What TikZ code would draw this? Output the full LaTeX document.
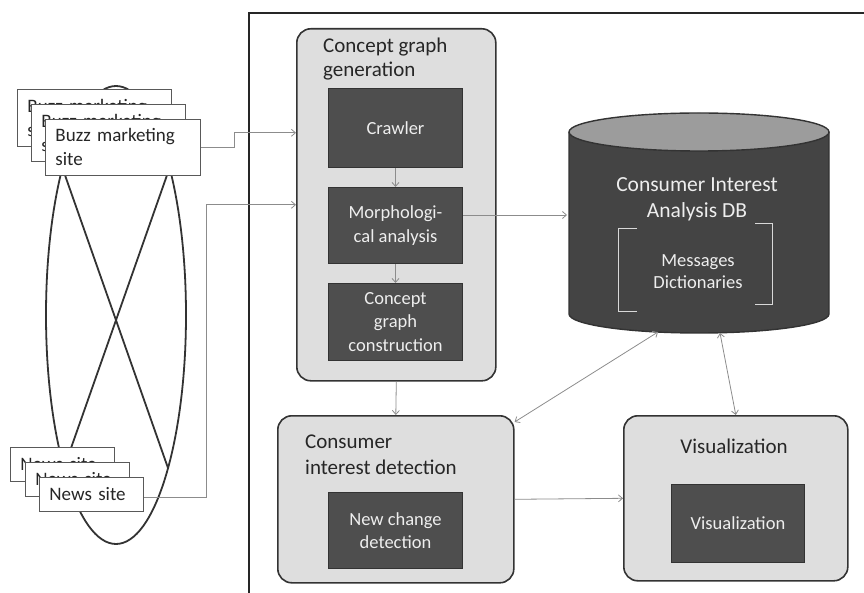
\documentclass[tikz,border=0pt]{standalone}
\usepackage{fontspec}
\setmainfont{Carlito}
\usetikzlibrary{arrows.meta}
\definecolor{lightbox}{HTML}{DEDEDE}
\definecolor{darkbox}{HTML}{4E4E4E}
\definecolor{edgec}{HTML}{333333}
\definecolor{connc}{HTML}{8C8C8C}
\definecolor{dbbody}{HTML}{444444}
\definecolor{dbtop}{HTML}{9C9C9C}
\definecolor{lighttext}{HTML}{EEEEEE}
\definecolor{inktext}{HTML}{262626}
\begin{document}
\begin{tikzpicture}[x=1pt,y=-1pt,
  group/.style={draw=edgec, line width=1.6pt, fill=lightbox, rounded corners=14pt, inner sep=0pt, anchor=north west},
  dark/.style={draw=edgec, line width=1pt, fill=darkbox, text=lighttext, align=center, inner sep=0pt, anchor=north west, font=\fontsize{18.5}{23.5}\selectfont},
  site/.style={draw=black!65, line width=0.9pt, fill=white, align=left, inner xsep=10pt, inner ysep=0pt, anchor=north west, font=\fontsize{19}{24}\selectfont, text=inktext},
  title/.style={inner sep=0pt, font=\fontsize{21}{26}\selectfont, text=inktext},
  dbtext/.style={inner sep=0pt, anchor=base, text=lighttext},
  conn/.style={draw=connc, line width=0.8pt, -{Straight Barb[length=4pt,width=7pt]}},
  conntwo/.style={draw=connc, line width=0.8pt, {Straight Barb[length=4pt,width=7pt]}-{Straight Barb[length=4pt,width=7pt]}},
  outline/.style={draw=black!80, line width=1.8pt}
]
\useasboundingbox (0,0) rectangle (864,593);

% outer frame
\draw[line width=2pt, draw=black!85] (864,13) -- (249,13) -- (249,593);

% ellipse with cross
\draw[outline] (116,315) ellipse[x radius=70, y radius=229];
\draw[outline] (62.4,167.8) -- (168,468);
\draw[outline] (169.6,167.8) -- (64,468);

% buzz marketing sites
\node[site, minimum width=154, minimum height=57, text width=134] (bz1) at (17,89) {Buzz marketing\\site};
\node[site, minimum width=154, minimum height=57, text width=134] (bz2) at (31,104) {Buzz marketing\\site};
\node[site, minimum width=155, minimum height=56, text width=135] (bz3) at (45,119) {Buzz marketing\\site};

% news sites
\node[site, minimum width=104, minimum height=34, text width=84] (nw1) at (10,447) {News site};
\node[site, minimum width=104, minimum height=34, text width=84] (nw2) at (25,462) {News site};
\node[site, minimum width=104, minimum height=34, text width=84] (nw3) at (39,477) {News site};

% concept graph generation
\node[group, minimum width=199, minimum height=352] (cg) at (296,28) {};
\node[title, anchor=base west] (cgt1) at (323,53) {Concept graph};
\node[title, anchor=base west] (cgt2) at (323,77) {generation};
\node[dark, minimum width=134, minimum height=79] (crawler) at (328,88) {Crawler};
\node[dark, minimum width=134, minimum height=76] (morph) at (328,187) {Morphologi-\\cal analysis};
\node[dark, minimum width=134, minimum height=77] (cgc) at (328,283) {Concept\\graph\\construction};

% consumer interest detection
\node[group, minimum width=236, minimum height=167] (cid) at (277,415) {};
\node[title, anchor=base west] (cidt1) at (305,448) {Consumer};
\node[title, anchor=base west] (cidt2) at (305,474) {interest detection};
\node[dark, minimum width=134, minimum height=76] (ncd) at (328,492) {New change\\detection};

% visualization
\node[group, minimum width=224, minimum height=165] (viz) at (623,415) {};
\node[title, anchor=base] (vizt) at (734,453) {Visualization};
\node[dark, minimum width=133, minimum height=78] (vizin) at (671,484) {Visualization};

% database cylinder
\fill[dbbody] (569,132) -- (569,314) arc[start angle=180, end angle=0, x radius=130, y radius=19] -- (829,132) -- cycle;
\draw[draw=edgec, line width=1.4pt] (569,132) -- (569,314) arc[start angle=180, end angle=0, x radius=130, y radius=19] -- (829,132);
\draw[draw=edgec, line width=1.4pt, fill=dbtop] (699,132) ellipse[x radius=130, y radius=19];
\node[dbtext, font=\fontsize{21.5}{26}\selectfont] (dbt1) at (697,192) {Consumer Interest};
\node[dbtext, font=\fontsize{21.5}{26}\selectfont] (dbt2) at (697,218) {Analysis DB};
\node[dbtext, font=\fontsize{18.5}{23}\selectfont] (dbm1) at (698,267) {Messages};
\node[dbtext, font=\fontsize{18.5}{23}\selectfont] (dbm2) at (698,289) {Dictionaries};
\draw[draw=white!85!black, line width=0.9pt] (637,228) -- (618,228) -- (618,311) -- (637,311);
\draw[draw=white!85!black, line width=0.9pt] (755,223) -- (772,223) -- (772,304) -- (755,304);
\coordinate (dbW) at (567,215);
\coordinate (dbA) at (658,332);
\coordinate (dbB) at (720,333);

% connectors
\draw[conn] (bz3.east) -- ++(33,0) |- ([yshift=72pt]cg.west);
\draw[conn] ([yshift=-3pt]nw3.east) -- ++(62,0) |- (cg.west);
\draw[conn] (crawler) -- (morph);
\draw[conn] (morph) -- (cgc);
\draw[conn] (morph.east |- dbW) -- (dbW);
\draw[conn] (cg.south) -- (cid.north);
\draw[conn] (cid.east) -- (viz.west);
\draw[conntwo] (dbA) -- ([yshift=-7pt]cid.north east);
\draw[conntwo] (dbB) -- (viz.north);
\end{tikzpicture}
\end{document}
